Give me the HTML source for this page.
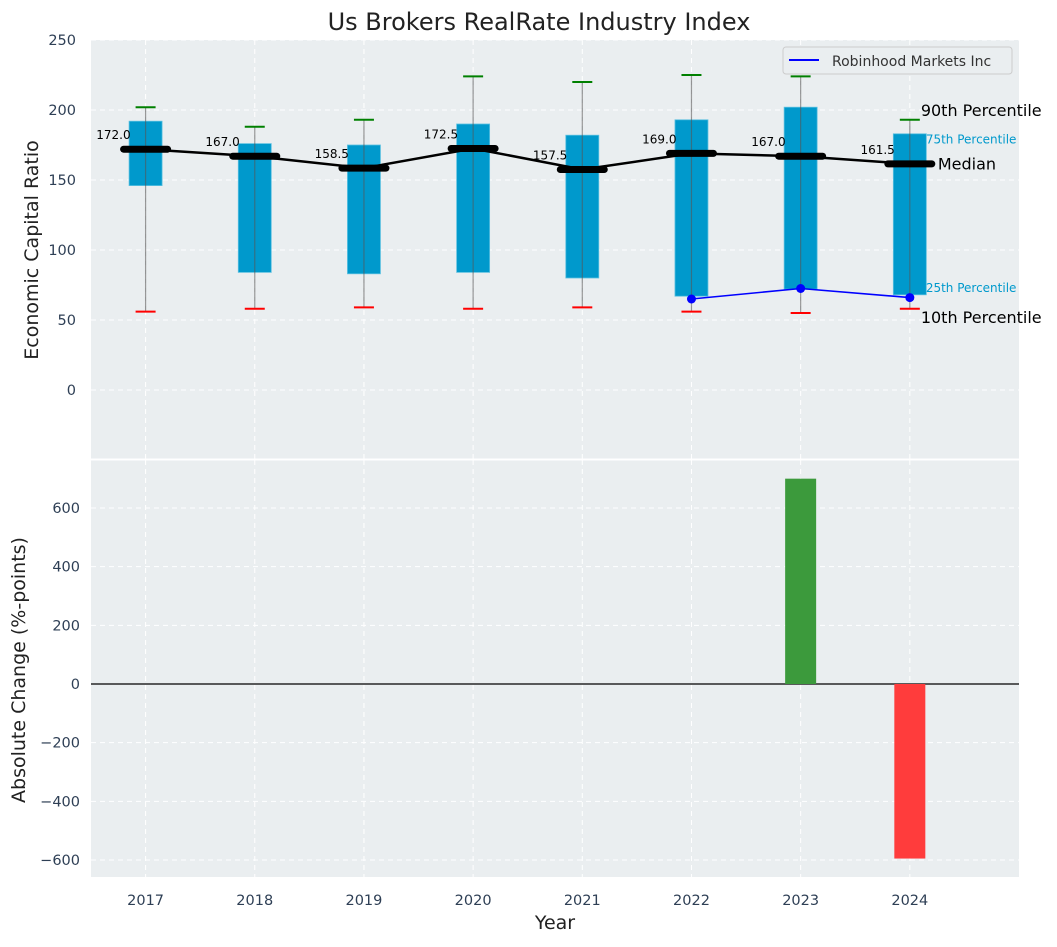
<!DOCTYPE html>
<html><head><meta charset="utf-8"><style>
body{margin:0;background:#fff;font-family:"Liberation Sans","DejaVu Sans",sans-serif;}
svg text{font-family:"DejaVu Sans","Liberation Sans",sans-serif;}
</style></head><body>
<svg id="c" width="1057" height="942" xmlns="http://www.w3.org/2000/svg"></svg>
<script>
const years=[2017,2018,2019,2020,2021,2022,2023,2024];
const p10=[56,58,59,58,59,56,55,58];
const p25=[146,84,83,84,80,67,72,68];
const med=[172,167,158.5,172.5,157.5,169,167,161.5];
const p75=[192,176,175,190,182,193,202,183];
const p90=[202,188,193,224,220,225,224,193];
const rhYears=[2022,2023,2024];
const rhVals=[65,72.5,66];
const chgYears=[2022,2023,2024];
const chgVals=[0,700,-595];
const topTicks=[0,50,100,150,200,250];
const botTicks=[-600,-400,-200,0,200,400,600];

const NS="http://www.w3.org/2000/svg",svg=document.getElementById('c');
function el(t,a,p){const e=document.createElementNS(NS,t);for(const k in a)e.setAttribute(k,a[k]);(p||svg).appendChild(e);return e;}
function tx(s,a,p){const e=el('text',a,p);e.textContent=s;return e;}
const L=91,R=1019;
const x=v=>L+(v-2016.5)/(2025-2016.5)*(R-L);
const T0=40,T1=459,yT=v=>390-v*1.4;
const B0=460,B1=877,yB=v=>684-v*(176/600);

let e=el('rect',{x:L,y:T0,width:R-L,height:T1-T0,fill:'#eaeef0'});

e=el('rect',{x:L,y:B0,width:R-L,height:B1-B0,fill:'#eaeef0'});

years.forEach(yr=>{[[T0,T1],[B0,B1]].forEach(([a,b])=>{el('line',{x1:x(yr),x2:x(yr),y1:a,y2:b,stroke:'#fff','stroke-dasharray':'5,4','stroke-width':1});});
 e=tx(yr,{x:x(yr),y:905,'text-anchor':'middle','font-size':14.5,fill:'#2e3f55'});});
topTicks.forEach(v=>{el('line',{x1:L,x2:R,y1:yT(v),y2:yT(v),stroke:'#fff','stroke-dasharray':'5,4'});
 e=tx(v,{x:76,y:yT(v)+5,'text-anchor':'end','font-size':14.5,fill:'#2e3f55'});});
botTicks.forEach(v=>{el('line',{x1:L,x2:R,y1:yB(v),y2:yB(v),stroke:'#fff','stroke-dasharray':'5,4'});
 e=tx(String(v).replace('-','\u2212'),{x:80,y:yB(v)+5,'text-anchor':'end','font-size':14.5,fill:'#2e3f55'});});

years.forEach((yr,i)=>{const cx=x(yr);
 e=el('rect',{x:cx-16.5,y:yT(p75[i]),width:33,height:yT(p25[i])-yT(p75[i]),fill:'#0099cc',stroke:'#5bc0e0','stroke-width':0.8});
 
 el('line',{x1:cx,x2:cx,y1:yT(p90[i]),y2:yT(p10[i]),stroke:'#555','stroke-opacity':0.6,'stroke-width':1.2});
 e=el('line',{x1:cx-10,x2:cx+10,y1:yT(p90[i]),y2:yT(p90[i]),stroke:'green','stroke-width':2});
 e=el('line',{x1:cx-10,x2:cx+10,y1:yT(p10[i]),y2:yT(p10[i]),stroke:'red','stroke-width':2});
});
e=el('polyline',{points:years.map((yr,i)=>x(yr)+','+yT(med[i])).join(' '),fill:'none',stroke:'#000','stroke-width':2.5});

years.forEach((yr,i)=>{const cx=x(yr);
 e=el('line',{x1:cx-22,x2:cx+22,y1:yT(med[i]),y2:yT(med[i]),stroke:'#000','stroke-width':7,'stroke-linecap':'round'});
 
 e=tx(med[i].toFixed(1),{x:cx-15,y:yT(med[i])-10,'text-anchor':'end','font-size':12,fill:'#000'});
 });
e=el('polyline',{points:rhYears.map((yr,i)=>x(yr)+','+yT(rhVals[i])).join(' '),fill:'none',stroke:'#0000ff','stroke-width':1.6});

rhYears.forEach((yr,i)=>{e=el('circle',{cx:x(yr),cy:yT(rhVals[i]),r:4.5,fill:'#0000ff'});});
const li=years.length-1,ax=x(years[li]);
[['90th Percentile',p90[li]+7,16,'#000',11],['75th Percentile',p75[li]-4,12,'#0099cc',16],['Median',med[li],16,'#000',28],['25th Percentile',p25[li]+5,12,'#0099cc',16],['10th Percentile',p10[li]-6,16,'#000',11]].forEach(([s,v,fs,c,dx])=>{
 e=tx(s,{x:ax+dx,y:yT(v)+fs*0.36,'font-size':fs,fill:c});});
const lg=el('g',{});
el('rect',{x:783,y:47,width:229,height:27,rx:3,fill:'#eaeef0',stroke:'#ccc'},lg);
el('line',{x1:789,x2:819,y1:60,y2:60,stroke:'#0000ff','stroke-width':2},lg);
tx('Robinhood Markets Inc',{x:832,y:66,'font-size':14,fill:'#333'},lg);

el('line',{x1:L,x2:R,y1:yB(0),y2:yB(0),stroke:'#000','stroke-width':1.2});
chgYears.forEach((yr,i)=>{const v=chgVals[i];if(!v)return;
 e=el('rect',{x:x(yr)-15.5,y:Math.min(yB(v),yB(0)),width:31,height:Math.abs(yB(v)-yB(0)),fill:v>0?'#3c9a3c':'#ff3c3c'});
 });
el('line',{x1:L,x2:R,y1:459.5,y2:459.5,stroke:'#fff','stroke-width':2});

e=tx('Us Brokers RealRate Industry Index',{x:539,y:30,'text-anchor':'middle','font-size':24,fill:'#222'});
e=tx('Economic Capital Ratio',{x:38,y:250,'text-anchor':'middle','font-size':19,fill:'#222',transform:'rotate(-90 38 250)'});
e=tx('Absolute Change (%-points)',{x:25,y:670,'text-anchor':'middle','font-size':19,fill:'#222',transform:'rotate(-90 25 670)'});
e=tx('Year',{x:555,y:929,'text-anchor':'middle','font-size':19,fill:'#222'});
</script>
</body></html>
